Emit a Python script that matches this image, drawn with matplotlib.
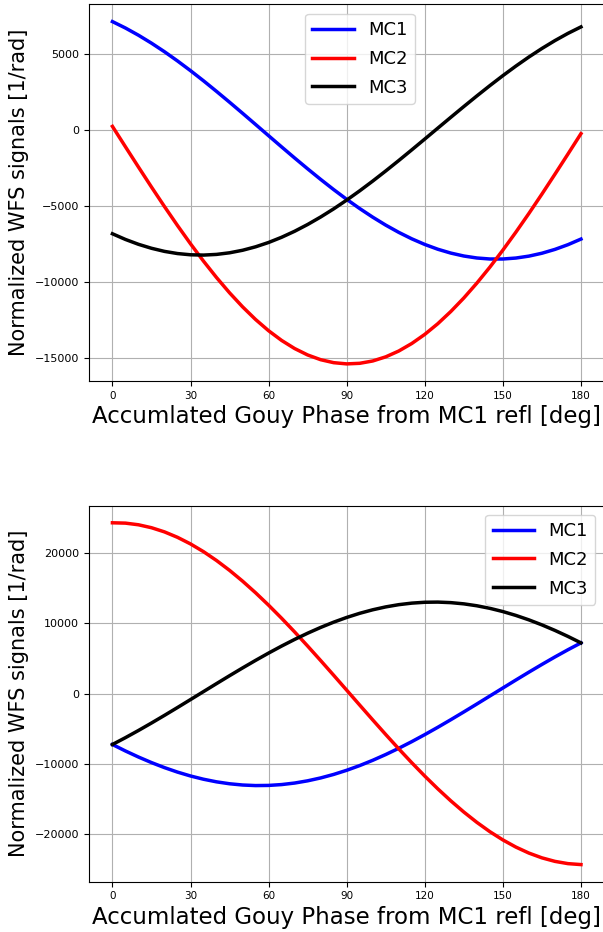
import matplotlib
matplotlib.use("Agg")
import matplotlib.pyplot as plt

phase = list(range(0, 181, 5))

top_mc1 = [7170, 6746, 6271, 5748, 5182, 4575, 3934, 3264, 2567, 1853, 1124, 386,
           -355, -1094, -1824, -2539, -3236, -3908, -4550, -5158, -5726, -6251,
           -6728, -7154, -7525, -7840, -8094, -8287, -8417, -8484, -8484, -8421,
           -8294, -8104, -7851, -7540, -7170]
top_mc2 = [260, -1086, -2421, -3739, -5028, -6278, -7482, -8628, -9708, -10714,
           -11638, -12474, -13214, -13854, -14388, -14812, -15124, -15320, -15400,
           -15362, -15208, -14936, -14552, -14056, -13454, -12750, -11946, -11054,
           -10076, -9022, -7898, -6714, -5480, -4203, -2893, -1564, -220]
top_mc3 = [-6820, -7195, -7515, -7777, -7982, -8125, -8206, -8226, -8181, -8075,
           -7908, -7680, -7394, -7051, -6655, -6208, -5714, -5178, -4600, -3988,
           -3346, -2678, -1991, -1287, -574, 144, 860, 1569, 2267, 2948, 3606,
           4237, 4836, 5397, 5917, 6393, 6820]

bot_mc1 = [-7230, -8153, -9012, -9804, -10522, -11159, -11711, -12175, -12545,
           -12819, -12996, -13076, -13054, -12934, -12716, -12399, -11989, -11489,
           -10900, -10229, -9479, -8657, -7770, -6824, -5824, -4782, -3702, -2595,
           -1469, -329, 811, 1947, 3066, 4162, 5228, 6253, 7230]
bot_mc2 = [24320, 24272, 24037, 23620, 23025, 22252, 21311, 20210, 18951, 17551,
           16016, 14360, 12593, 10731, 8787, 6777, 4714, 2619, 500, -1623, -3730,
           -5811, -7847, -9825, -11727, -13540, -15250, -16843, -18309, -19636,
           -20811, -21830, -22683, -23362, -23863, -24184, -24320]
bot_mc3 = [-7230, -6257, -5236, -4175, -3083, -1968, -836, 301, 1436, 2560, 3664,
           4741, 5781, 6778, 7723, 8609, 9430, 10179, 10850, 11439, 11940, 12351,
           12669, 12888, 13011, 13035, 12958, 12784, 12512, 12147, 11686, 11138,
           10505, 9791, 9004, 8149, 7230]

labels = ["MC1", "MC2", "MC3"]
colors = ["blue", "red", "black"]
xticks = [0, 30, 60, 90, 120, 150, 180]
xlabel = "Accumlated Gouy Phase from MC1 refl [deg]"
ylabel = "Normalized WFS signals [1/rad]"

fig = plt.figure(figsize=(6.03, 9.32), dpi=100)
ax1 = fig.add_axes([0.1476, 0.5912, 0.8547, 0.404])
ax2 = fig.add_axes([0.1476, 0.054, 0.8547, 0.4034])

for ax, series in ((ax1, (top_mc1, top_mc2, top_mc3)), (ax2, (bot_mc1, bot_mc2, bot_mc3))):
    for y, lab, c in zip(series, labels, colors):
        ax.plot(phase, y, color=c, lw=2.5, label=lab)
    ax.set_xticks(xticks)
    ax.tick_params(axis='x', labelsize=7.5)
    ax.tick_params(axis='y', labelsize=8)
    ax.grid(True, color='#b0b0b0', lw=0.8)
    ax.set_xlabel(xlabel, fontsize=16.5, labelpad=3)
    ax.set_ylabel(ylabel, fontsize=15)

ax1.legend(loc='upper right', bbox_to_anchor=(0.6325, 0.975), borderaxespad=0,
           fontsize=13, handlelength=2.3, labelspacing=0.6)
ax2.legend(loc='upper right', fontsize=13, handlelength=2.3, labelspacing=0.6)

fig.savefig("out.png", dpi=100)
